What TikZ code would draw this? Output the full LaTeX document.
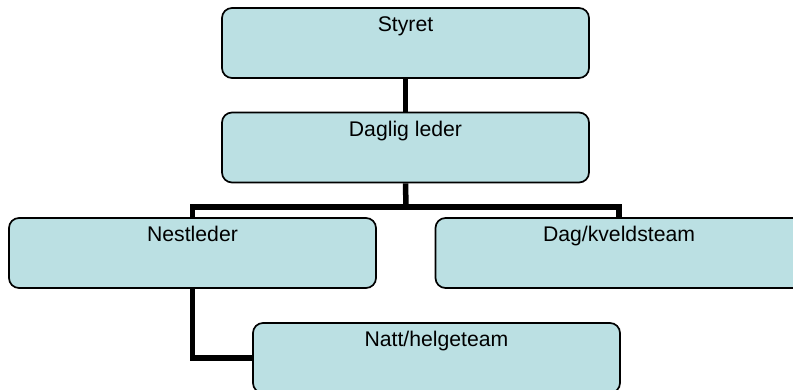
\documentclass[tikz,border=0pt]{standalone}
\usepackage{fontspec}
\setmainfont{Liberation Sans}
\definecolor{boxfill}{RGB}{187,224,227}
\begin{document}
\begin{tikzpicture}[x=1pt,y=-1pt,
  orgbox/.style={draw=black, line width=1.7pt, fill=boxfill, rounded corners=10pt,
    minimum width=367pt, minimum height=70pt, inner sep=0pt},
  orglabel/.style={anchor=base, inner sep=0pt, font=\fontsize{21.2}{25}\selectfont},
  conn/.style={draw=black, line width=5.5pt}]
\useasboundingbox (0,0) rectangle (793,390);

% connectors first, so the boxes sit on top of them
\coordinate (bus) at (406,207);
\node[orgbox, draw=none, fill=none] (styret) at (405.5,43) {};
\node[orgbox, draw=none, fill=none] (daglig) at (405.5,147.5) {};
\node[orgbox, draw=none, fill=none] (nest) at (192.5,253) {};
\node[orgbox, draw=none, fill=none] (dag) at (619,253) {};
\node[orgbox, draw=none, fill=none] (natt) at (436.5,358) {};

\draw[conn] (styret.south) -- (daglig.north);
\draw[conn] (daglig.south) -- (bus);
\draw[conn] (nest.north) |- (bus) -| (dag.north);
\draw[conn] (nest.south) |- (natt.west);

% boxes
\node[orgbox] (styretbox) at (styret) {};
\node[orgbox] (dagligbox) at (daglig) {};
\node[orgbox] (nestbox) at (nest) {};
\node[orgbox] (dagbox) at (dag) {};
\node[orgbox] (nattbox) at (natt) {};

% titles, set near the top edge of each box
\node[orglabel] (t1) at ([yshift=-24.5pt]styretbox.north) {Styret};
\node[orglabel] (t2) at ([yshift=-24.5pt]dagligbox.north) {Daglig leder};
\node[orglabel] (t3) at ([yshift=-24.5pt]nestbox.north) {Nestleder};
\node[orglabel] (t4) at ([yshift=-24.5pt]dagbox.north) {Dag/kveldsteam};
\node[orglabel] (t5) at ([yshift=-24.5pt]nattbox.north) {Natt/helgeteam};
\end{tikzpicture}
\end{document}
